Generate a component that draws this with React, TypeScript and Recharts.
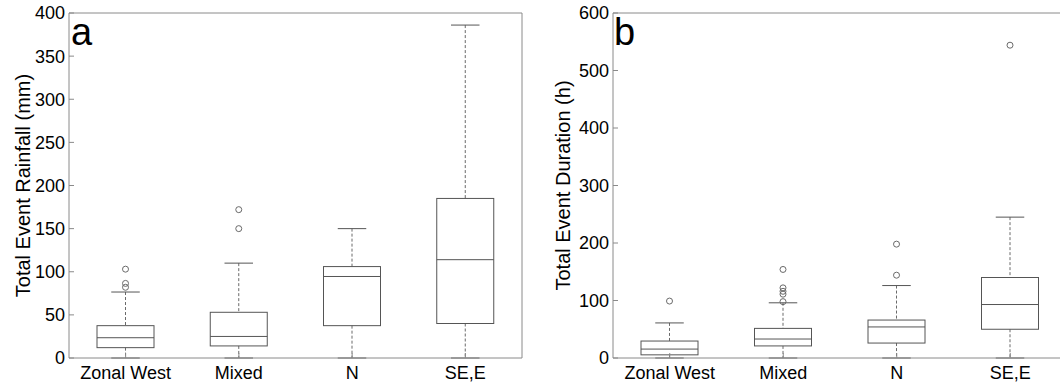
import React from 'react';
import { ComposedChart, Bar, XAxis, YAxis } from 'recharts';

const FONT = '"Liberation Sans", Arial, Helvetica, sans-serif';

const categories = ['Zonal West', 'Mixed', 'N', 'SE,E'];

// Panel a: Total Event Rainfall (mm)
const rainLow = [0, 0, 0, 0];
const rainQ1 = [12, 14, 37.5, 40];
const rainMedian = [23.5, 25, 94.5, 114];
const rainQ3 = [37.5, 53, 106, 185];
const rainHigh = [76.5, 110, 150, 386];
const rainOutliers = [[82, 86.5, 103], [150, 172], [], []];
const rainTicks = [0, 50, 100, 150, 200, 250, 300, 350, 400];

// Panel b: Total Event Duration (h)
const durLow = [0, 0, 0, 0];
const durQ1 = [5.5, 21, 26, 50];
const durMedian = [15.5, 33, 54, 93];
const durQ3 = [29.5, 51.5, 66, 140];
const durHigh = [61, 96, 126, 245];
const durOutliers = [[99], [98, 111, 116, 122, 154], [144, 198], [544]];
const durTicks = [0, 100, 200, 300, 400, 500, 600];

const buildRows = (lo: number[], q1: number[], med: number[], q3: number[], hi: number[], out: number[][]) =>
  categories.map((name, i) => ({ name, lo: lo[i], q1: q1[i], med: med[i], q3: q3[i], hi: hi[i], outliers: out[i] }));

const rainData = buildRows(rainLow, rainQ1, rainMedian, rainQ3, rainHigh, rainOutliers);
const durData = buildRows(durLow, durQ1, durMedian, durQ3, durHigh, durOutliers);

const AXIS = '#8a8a8a';
const BOX = '#555555';
const WHISK = '#6a6a6a';

const BoxShape = (props: any) => {
  const { x, y, width, height, payload } = props;
  if (!payload) return null;
  const top = Math.min(y, y + height);
  const bottom = Math.max(y, y + height);
  const { lo, q1, med, q3, hi, outliers } = payload;
  const px = (v: number) => bottom - ((v - lo) / (hi - lo)) * (bottom - top);
  const cx = x + width / 2;
  const capHalf = width / 4;
  return (
    <g>
      <line x1={cx} x2={cx} y1={px(hi)} y2={px(q3)} stroke={WHISK} strokeDasharray="3 2" />
      <line x1={cx} x2={cx} y1={px(q1)} y2={px(lo)} stroke={WHISK} strokeDasharray="3 2" />
      <line x1={cx - capHalf} x2={cx + capHalf} y1={px(hi)} y2={px(hi)} stroke={BOX} />
      <line x1={cx - capHalf} x2={cx + capHalf} y1={px(lo)} y2={px(lo)} stroke={BOX} />
      <rect x={x} y={px(q3)} width={width} height={px(q1) - px(q3)} fill="none" stroke={BOX} />
      <line x1={x} x2={x + width} y1={px(med)} y2={px(med)} stroke={BOX} />
      {outliers.map((v: number, k: number) => (
        <circle key={k} cx={cx} cy={px(v)} r={3} fill="none" stroke={WHISK} />
      ))}
    </g>
  );
};

const makeLabel = (text: string, letter: string, labelCx: number, letterX: number) => (props: any) => {
  const vb = props && props.viewBox ? props.viewBox : { x: 0, y: 13, width: 69, height: 345 };
  const cy = vb.y + vb.height / 2;
  return (
    <g>
      <text
        x={labelCx}
        y={cy}
        transform={`rotate(-90, ${labelCx}, ${cy})`}
        textAnchor="middle"
        dominantBaseline="central"
        fontSize={20}
        fontFamily={FONT}
        fill="#000"
      >
        {text}
      </text>
      <text x={letterX} y={vb.y + 32} fontSize={38} fontFamily={FONT} fill="#000">
        {letter}
      </text>
    </g>
  );
};

type PanelProps = {
  data: any[];
  ticks: number[];
  max: number;
  width: number;
  yWidth: number;
  rightAxis: boolean;
  marginRight: number;
  label: string;
  letter: string;
  labelCx: number;
  letterX: number;
};

const Panel = (p: PanelProps) => {
  const tickStyle = { fill: '#000', fontSize: 18, fontFamily: FONT };
  return (
    <ComposedChart
      width={p.width}
      height={389}
      data={p.data}
      margin={{ top: 12, right: p.marginRight, bottom: 0, left: 0 }}
    >
      <XAxis
        dataKey="name"
        type="category"
        height={31}
        tickSize={-5}
        tickMargin={13.5}
        tick={tickStyle}
        axisLine={{ stroke: AXIS }}
        tickLine={{ stroke: AXIS }}
        interval={0}
      />
      <XAxis
        xAxisId="top"
        dataKey="name"
        type="category"
        orientation="top"
        height={1}
        tickSize={-5}
        tick={false}
        axisLine={{ stroke: AXIS }}
        tickLine={{ stroke: AXIS }}
        interval={0}
      />
      <YAxis
        type="number"
        domain={[0, p.max]}
        ticks={p.ticks}
        interval={0}
        width={p.yWidth}
        tickSize={-5}
        tickMargin={9}
        tick={tickStyle}
        axisLine={{ stroke: AXIS }}
        tickLine={{ stroke: AXIS }}
        label={makeLabel(p.label, p.letter, p.labelCx, p.letterX)}
      />
      {p.rightAxis && (
        <YAxis
          yAxisId="right"
          orientation="right"
          type="number"
          domain={[0, p.max]}
          ticks={p.ticks}
          interval={0}
          width={1}
          tickSize={-5}
          tick={false}
          axisLine={{ stroke: AXIS }}
          tickLine={{ stroke: AXIS }}
        />
      )}
      <Bar
        dataKey={(d: any) => [d.lo, d.hi]}
        barSize={57}
        isAnimationActive={false}
        shape={(props: any) => <BoxShape {...props} />}
      />
    </ComposedChart>
  );
};

export default function App() {
  return (
    <div
      style={{
        position: 'absolute',
        left: 0,
        top: 0,
        width: 1060,
        height: 389,
        overflow: 'hidden',
        background: '#fff',
      }}
    >
      <div style={{ position: 'absolute', left: 0, top: 0 }}>
        <Panel
          data={rainData}
          ticks={rainTicks}
          max={400}
          width={530}
          yWidth={69}
          rightAxis={true}
          marginRight={7}
          label="Total Event Rainfall (mm)"
          letter="a"
          labelCx={23}
          letterX={71}
        />
      </div>
      <div style={{ position: 'absolute', left: 530, top: 0 }}>
        <Panel
          data={durData}
          ticks={durTicks}
          max={600}
          width={537}
          yWidth={83}
          rightAxis={false}
          marginRight={0}
          label="Total Event Duration (h)"
          letter="b"
          labelCx={33}
          letterX={84}
        />
      </div>
    </div>
  );
}
